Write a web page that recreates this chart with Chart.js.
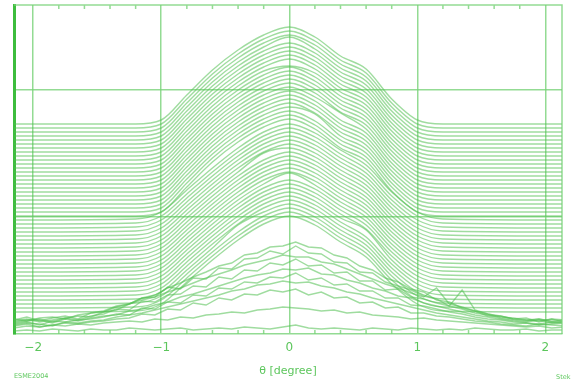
<!DOCTYPE html>
<html>
<head>
<meta charset="utf-8">
<script src="https://cdn.jsdelivr.net/npm/chart.js@4.4.1/dist/chart.umd.min.js"></script>
<style>
  html, body { margin: 0; padding: 0; background: #fff; }
  #wrap { position: relative; width: 576px; height: 381px; }
  .note { position: absolute; font-family: "DejaVu Sans", sans-serif; color: #5fc85f; font-size: 6.5px; }
</style>
</head>
<body>
<div id="wrap">
  <canvas id="profiles" width="576" height="381"></canvas>
  <div class="note" style="left:14px; top:372px;">ESME2004</div>
  <div class="note" style="left:556px; top:373px;">Stek</div>
</div>
<script>
// stacked angular profiles
// y values are arbitrary intensity units (plot bottom = 0)

const smoothTheta = [-2.15, -1.2, -1.0, -0.8, -0.6, -0.4, -0.2, 0, 0.2, 0.4, 0.6, 0.8, 1.0, 1.2, 2.13];

const smoothTraces = [
  [210,210,214,239,264,284,299,307,297,278,265,235,214,210,210],
  [206,206,210,235,260,280,295,303,293,274,261,231,210,206,206],
  [202,202,206,231,256,276,291,299,289,270,257,227,206,202,202],
  [198,198,202,227,252,272,287,297,285,266,253,223,202,198,198],
  [194,194,198,223,248,268,283,291,281,262,249,219,198,194,194],
  [190,190,194,219,244,264,279,287,277,258,245,215,194,190,190],
  [186,186,190,215,240,260,275,283,273,254,241,211,190,186,186],
  [182,182,186,211,236,256,271,279,269,250,237,207,186,182,182],
  [178,178,182,207,232,252,267,275,265,246,233,203,182,178,178],
  [174,174,178,203,228,248,263,268,261,242,229,199,178,174,174],
  [170,170,174,199,224,244,259,267,257,238,225,195,174,170,170],
  [166,166,170,195,220,240,255,263,253,234,221,191,170,166,166],
  [162,162,166,191,216,236,251,259,249,230,217,187,166,162,162],
  [158,158,162,187,212,232,247,255,245,226,213,183,162,158,158],
  [154,154,158,183,208,228,243,251,241,222,209,179,158,154,154],
  [150,150,154,179,204,224,239,247,237,221,205,175,154,150,150],
  [146,146,150,175,200,220,235,243,233,214,201,171,150,146,146],
  [142,142,146,171,196,216,231,239,229,210,197,167,146,142,142],
  [138,138,142,167,192,212,227,235,225,206,193,163,142,138,138],
  [134,134,138,163,188,208,223,231,221,202,189,159,138,134,134],
  [130,130,134,159,184,204,219,227,220,198,185,155,134,130,130],
  [126,126,130,155,180,200,215,223,213,194,181,151,130,126,126],
  [122,122,126,151,176,196,211,219,209,190,177,147,126,122,122],
  [118,118,122,147,172,192,207,215,205,186,173,143,122,118,118],
  [114,115,122,144,166,186,202,210,201,184,169,142,122,115,114],
  [110,111,118,140,162,182,198,206,197,180,165,138,118,111,110],
  [106,107,114,136,158,178,194,202,193,176,161,134,114,107,106],
  [102,103,110,132,154,174,190,198,189,172,157,130,110,103,102],
  [98,99,106,128,150,170,186,194,185,168,153,126,106,99,98],
  [94,95,102,124,146,166,182,190,181,164,149,122,102,95,94],
  [90,91,98,120,142,162,181,186,177,160,145,118,98,91,90],
  [86,87,94,116,138,158,174,182,173,156,141,114,94,87,86],
  [82,83,90,112,134,154,170,178,169,152,137,110,90,83,82],
  [78,79,86,108,130,150,166,174,165,148,133,106,86,79,78],
  [74,75,82,104,126,146,162,170,161,144,129,102,82,75,74],
  [70,71,78,100,122,142,158,166,157,140,125,98,78,71,70],
  [66,67,74,96,118,138,154,162,153,136,121,94,74,67,66],
  [62,63,70,92,114,134,150,161,149,132,117,90,70,63,62],
  [58,59,66,88,110,130,146,154,145,128,113,86,66,59,58],
  [54,55,62,84,106,126,142,150,141,124,109,82,62,55,54],
  [50,51,58,80,102,122,138,146,137,120,105,78,58,51,50],
  [46,47,54,76,98,118,134,142,133,116,104,74,54,47,46],
  [42,43,50,72,94,114,130,138,129,112,97,70,50,43,42],
  [38,39,46,68,90,110,126,134,125,108,93,66,46,39,38],
  [34,35,42,64,86,109,122,130,121,104,89,62,42,35,34],
  [30,31,38,60,82,102,118,126,117,100,85,58,38,31,30],
  [26,27,34,56,78,98,114,122,113,96,81,54,34,27,26],
  [22,23,30,52,74,94,110,118,109,92,77,50,30,23,22]
];

const noisyTheta = [
  -2.15, -2.05, -1.95, -1.85, -1.75, -1.65, -1.55, -1.45, -1.35, -1.25,
  -1.15, -1.05, -0.95, -0.85, -0.75, -0.65, -0.55, -0.45, -0.35, -0.25,
  -0.15, -0.05, 0.05, 0.15, 0.25, 0.35, 0.45, 0.55, 0.65, 0.75,
  0.85, 0.95, 1.05, 1.15, 1.25, 1.35, 1.45, 1.55, 1.65, 1.75,
  1.85, 1.95, 2.05, 2.15
];

const noisyTraces = [
  [14,17,13,16,18,15,21,23,28,30, 36,39,46,51,57,62,68,71,79,81, 87,88,92,87,86,79,76,68,64,56, 52,45,42,34,32,26,23,18,18,15, 16,12,15,14],
  [12,14,15,12,16,18,17,22,24,30, 36,37,47,45,56,55,66,65,75,76, 83,80,88,81,80,72,71,62,61,52, 48,44,38,35,28,25,21,19,16,14, 13,15,12,13],
  [15,13,16,17,15,19,21,22,27,30, 34,37,42,46,51,56,60,64,69,72, 75,79,77,77,72,70,65,60,55,50, 46,41,37,46,30,27,23,20,17,16, 14,15,13,14],
  [13,15,12,14,16,14,18,20,25,24, 33,32,39,40,48,47,57,55,64,63, 71,69,75,68,69,61,62,53,53,44, 45,37,35,31,28,44,24,20,18,15, 14,13,15,12],
  [11,13,14,11,15,13,16,18,19,23, 25,29,32,37,40,44,48,52,56,59, 61,65,64,66,60,59,54,51,46,43, 38,36,31,28,25,22,19,17,15,13, 12,14,11,12],
  [10,12,9,13,12,14,15,17,20,19, 26,25,32,31,39,38,46,45,52,51, 57,56,61,54,56,49,50,43,43,36, 36,29,28,25,22,20,17,15,14,12, 11,10,12,11],
  [9,11,10,8,12,11,13,14,17,19, 21,24,27,30,33,36,39,43,45,49, 50,53,51,52,48,46,42,40,36,33, 30,27,24,21,19,17,15,13,12,10, 11,9,10,11],
  [8,10,7,9,11,10,12,13,15,16, 20,19,25,24,31,29,36,34,40,39, 44,42,45,39,42,36,37,31,32,26, 27,21,21,18,17,15,13,12,10,9, 8,10,9,8],
  [6,8,7,9,8,10,9,11,12,13, 12,15,14,17,16,19,20,22,21,24, 25,27,26,25,23,24,21,22,19,18, 17,15,16,14,13,12,11,10,9,8, 7,8,6,7],
  [3,4,3,5,4,3,5,4,4,6, 5,4,5,6,4,5,6,5,7,6, 5,7,9,6,5,6,5,4,6,5, 4,6,5,4,5,4,6,5,4,4, 5,3,4,4]
];

const thetaTicks = [-2, -1, 0, 1, 2];
const minorTicks = [-1.8, -1.6, -1.4, -1.2, -0.8, -0.6, -0.4, -0.2, 0.2, 0.4, 0.6, 0.8, 1.2, 1.4, 1.6, 1.8];
const gridLevels = [117, 244];

const lineColor = "rgba(80, 192, 80, 0.55)";
const gridColor = "rgba(120, 210, 120, 0.8)";
const axisColor = "#3dbd3d";
const textColor = "#5cc65c";

function toPoints(xs, ys) {
  return xs.map((x, i) => ({ x: x, y: ys[i] }));
}

const datasets = [];
smoothTraces.forEach((row) => {
  datasets.push({
    data: toPoints(smoothTheta, row),
    borderColor: lineColor,
    borderWidth: 1.4,
    cubicInterpolationMode: "monotone",
    pointRadius: 0,
  });
});
noisyTraces.forEach((row) => {
  datasets.push({
    data: toPoints(noisyTheta, row),
    borderColor: lineColor,
    borderWidth: 1.4,
    tension: 0,
    pointRadius: 0,
  });
});

// top + right frame and the small inward minor ticks
const framePlugin = {
  id: "frame",
  afterDraw(chart) {
    const { ctx, chartArea: a } = chart;
    const xs = chart.scales.x;
    ctx.save();
    ctx.strokeStyle = gridColor;
    ctx.lineWidth = 1.5;
    ctx.beginPath();
    ctx.moveTo(a.left, a.top);
    ctx.lineTo(a.right, a.top);
    ctx.lineTo(a.right, a.bottom);
    minorTicks.forEach((v) => {
      const px = xs.getPixelForValue(v);
      ctx.moveTo(px, a.top);
      ctx.lineTo(px, a.top + 4);
      ctx.moveTo(px, a.bottom);
      ctx.lineTo(px, a.bottom - 4);
    });
    ctx.stroke();
    ctx.restore();
  },
};

new Chart(document.getElementById("profiles"), {
  type: "line",
  data: { datasets },
  plugins: [framePlugin],
  options: {
    responsive: false,
    animation: false,
    devicePixelRatio: 1,
    layout: { padding: { left: 14, right: 14, top: 5, bottom: 0 } },
    plugins: { legend: { display: false }, tooltip: { enabled: false } },
    scales: {
      x: {
        type: "linear",
        min: -2.15,
        max: 2.13,
        afterBuildTicks: (s) => { s.ticks = thetaTicks.map((v) => ({ value: v })); },
        afterFit: (s) => { s.height = 47; },
        ticks: {
          color: textColor,
          font: { family: "DejaVu Sans", size: 12 },
          padding: 7,
          maxRotation: 0,
          callback: (v) => (v < 0 ? "\u2212" + Math.abs(v) : String(v)),
        },
        grid: { color: gridColor, lineWidth: 1.5, drawTicks: false },
        border: { color: gridColor, width: 1.5 },
        title: {
          display: true,
          text: "\u03b8 [degree]",
          color: textColor,
          font: { family: "DejaVu Sans", size: 11 },
          padding: { top: 0, bottom: 3 },
        },
      },
      y: {
        min: 0,
        max: 329,
        afterBuildTicks: (s) => { s.ticks = gridLevels.map((v) => ({ value: v })); },
        afterFit: (s) => { s.width = 0; },
        ticks: { display: false },
        grid: { color: gridColor, lineWidth: 1.5, drawTicks: false },
        border: { color: axisColor, width: 3 },
      },
    },
  },
});
</script>
</body>
</html>
